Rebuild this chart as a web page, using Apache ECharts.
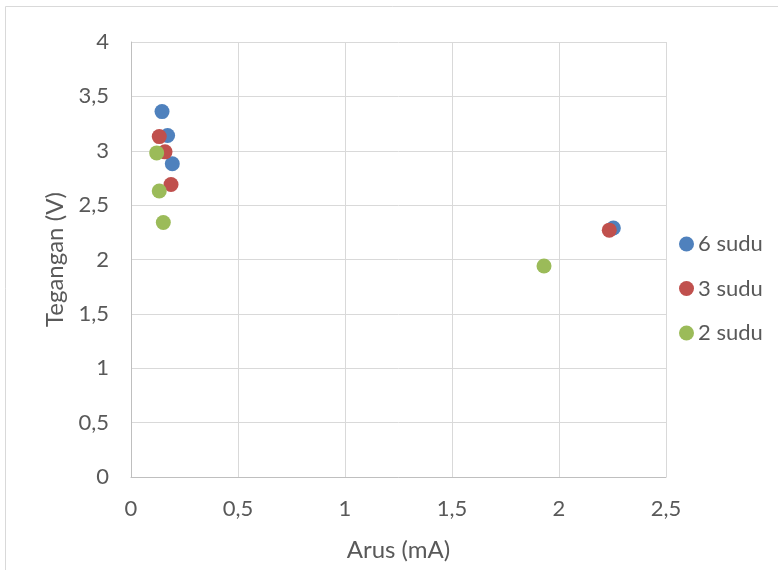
<!DOCTYPE html>
<html><head><meta charset="utf-8">
<script src="https://cdn.jsdelivr.net/npm/echarts@6/dist/echarts.min.js"></script>
<style>html,body{margin:0;padding:0;background:#fff}#c{width:778px;height:570px}</style>
</head><body><div id="c"></div>
<script>
var seriesNames = ['6 sudu', '3 sudu', '2 sudu'];
var sudu6 = [[0.145, 3.36], [0.171, 3.14], [0.193, 2.88], [2.254, 2.29]];
var sudu3 = [[0.132, 3.13], [0.159, 2.99], [0.187, 2.69], [2.235, 2.27]];
var sudu2 = [[0.120, 2.98], [0.132, 2.63], [0.151, 2.34], [1.93, 1.94]];
var colors = ['#4F81BD', '#C0504D', '#9BBB59'];
var fmt = function (v) { return String(v).replace('.', ','); };
var font = 'Lato, "Open Sans", sans-serif';
var chart = echarts.init(document.getElementById('c'));
chart.setOption({
  animation: false,
  textStyle: { fontFamily: font },
  graphic: [{ type: 'rect', shape: { x: 5.5, y: 6.5, width: 800, height: 600 }, style: { fill: 'none', stroke: '#d9d9d9', lineWidth: 1 }, silent: true }],
  grid: { left: 131, top: 42, right: 112, bottom: 93 },
  legend: {
    orient: 'vertical', left: 674, top: 228, itemGap: 22.5,
    icon: 'circle', itemWidth: 15, itemHeight: 15,
    textStyle: { fontSize: 22, lineHeight: 22, color: '#595959', fontFamily: font, padding: [0, 0, 0, -1] },
    data: seriesNames
  },
  xAxis: {
    type: 'value', min: 0, max: 2.5, interval: 0.5,
    name: 'Arus (mA)', nameLocation: 'middle', nameGap: 61,
    nameTextStyle: { fontSize: 24, color: '#595959' },
    axisLine: { show: true, lineStyle: { color: '#bfbfbf' } },
    axisTick: { show: false },
    axisLabel: { fontSize: 22, color: '#595959', margin: 21, formatter: fmt },
    splitLine: { lineStyle: { color: '#d9d9d9' } }
  },
  yAxis: {
    type: 'value', min: 0, max: 4, interval: 0.5,
    name: 'Tegangan (V)', nameLocation: 'middle', nameGap: 64,
    nameTextStyle: { fontSize: 24, color: '#595959' },
    axisLine: { show: true, lineStyle: { color: '#bfbfbf' } },
    axisTick: { show: false },
    axisLabel: { fontSize: 22, color: '#595959', margin: 22, formatter: fmt },
    splitLine: { lineStyle: { color: '#d9d9d9' } }
  },
  series: [
    { name: seriesNames[0], type: 'scatter', data: sudu6, symbolSize: 15, itemStyle: { color: colors[0], opacity: 1 } },
    { name: seriesNames[1], type: 'scatter', data: sudu3, symbolSize: 15, itemStyle: { color: colors[1], opacity: 1 } },
    { name: seriesNames[2], type: 'scatter', data: sudu2, symbolSize: 15, itemStyle: { color: colors[2], opacity: 1 } }
  ]
});
</script></body></html>
